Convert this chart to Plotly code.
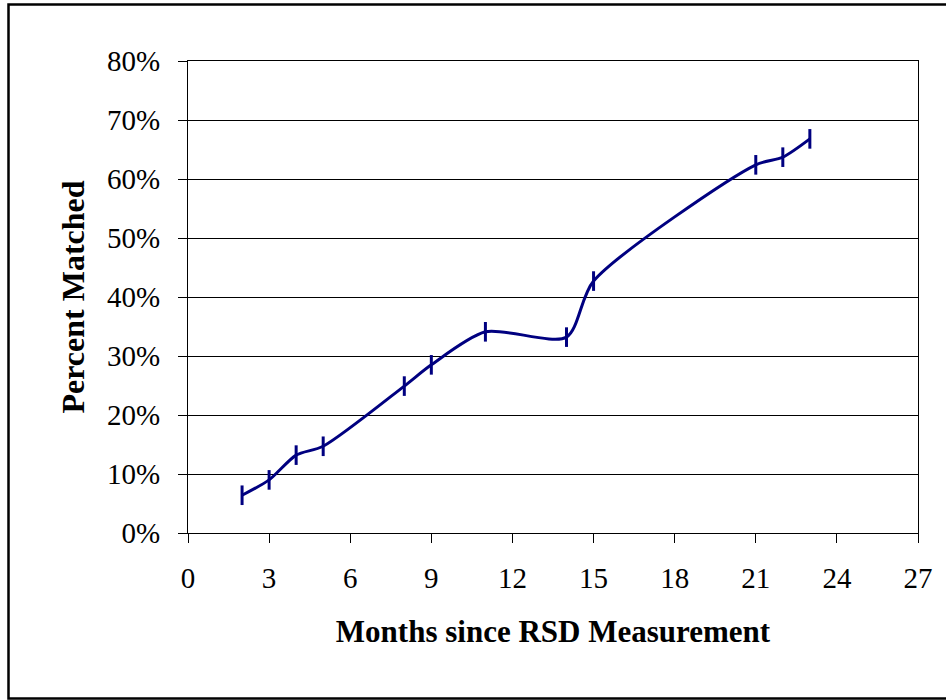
import plotly.graph_objects as go

months = [2, 3, 4, 5, 8, 9, 11, 14, 15, 21, 22, 23]
pct_matched = [0.064, 0.090, 0.132, 0.147, 0.249, 0.285, 0.341, 0.332, 0.427, 0.624, 0.637, 0.668]
x_ticks = [0, 3, 6, 9, 12, 15, 18, 21, 24, 27]
y_ticks = [0, 0.1, 0.2, 0.3, 0.4, 0.5, 0.6, 0.7, 0.8]

W, H = 946, 700
L, R, T, B = 188, 28, 61, 167
pw, ph = W - L - R, H - T - B

def px_x(p):
    return (p - L) / pw

def px_y(p):
    return (H - B - p) / ph

fig = go.Figure()
fig.add_trace(go.Scatter(
    x=months, y=pct_matched, mode="lines+markers",
    line=dict(color="#000080", width=3, shape="spline", smoothing=0.75),
    marker=dict(symbol="line-ns", size=14, line=dict(color="#000080", width=3)),
    showlegend=False, hoverinfo="skip",
))

font = "Liberation Serif, Times New Roman, serif"
fig.update_layout(
    width=W, height=H,
    margin=dict(l=L, r=R, t=T, b=B),
    paper_bgcolor="white", plot_bgcolor="white",
    font=dict(family=font, color="black", size=29),
    xaxis=dict(
        range=[0, 27], tickvals=x_ticks, ticktext=[str(v) for v in x_ticks],
        showgrid=False, zeroline=False, showline=True, linecolor="black", linewidth=1,
        mirror=True, ticks="outside", ticklen=9, tickcolor="black",
        tickfont=dict(size=29, family=font), ticklabelstandoff=10,
        title=dict(text="<b>Months since RSD Measurement</b>", font=dict(size=31, family=font), standoff=27),
    ),
    yaxis=dict(
        range=[0, 0.8], tickvals=y_ticks, ticktext=[f"{int(round(v*100))}%" for v in y_ticks],
        showgrid=True, gridcolor="black", gridwidth=1, zeroline=False,
        showline=True, linecolor="black", linewidth=1, mirror=True,
        ticks="outside", ticklen=9, tickcolor="black",
        tickfont=dict(size=29, family=font), ticklabelstandoff=12,
        title=dict(text="<b>Percent Matched</b>", font=dict(size=32, family=font), standoff=12),
    ),
    shapes=[dict(
        type="rect", xref="paper", yref="paper",
        x0=px_x(8.5), x1=px_x(952), y0=px_y(698.5), y1=px_y(4.5),
        line=dict(color="black", width=2.5), fillcolor="rgba(0,0,0,0)", layer="below",
    )],
)

fig.write_html(
    "out.html",
    config={"displayModeBar": False},
    post_script="document.body.style.margin='0';document.body.style.overflow='hidden';",
)
